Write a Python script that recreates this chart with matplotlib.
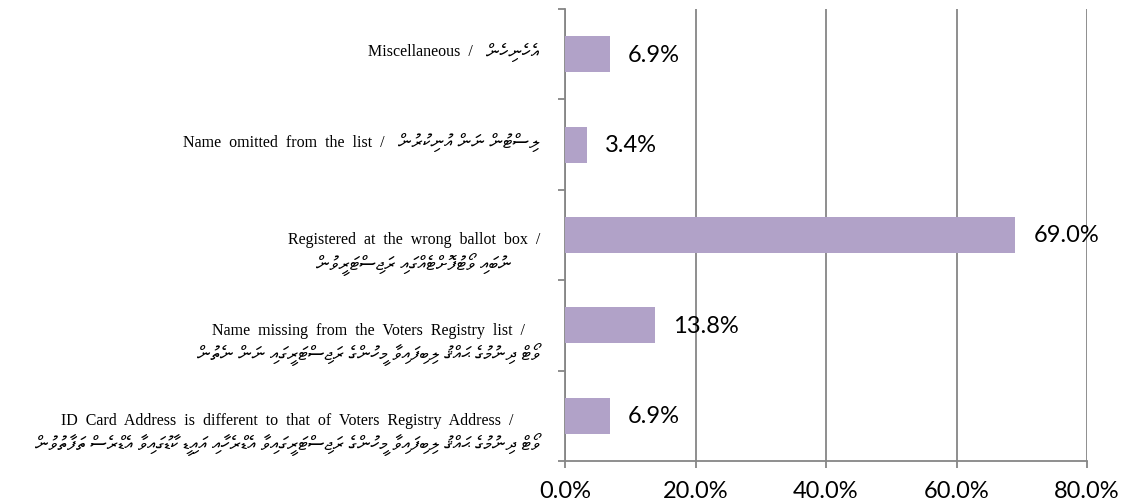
import re
import matplotlib
matplotlib.use("Agg")
import matplotlib.pyplot as plt
from matplotlib.ticker import FuncFormatter
from matplotlib.offsetbox import TextArea, VPacker, HPacker, AnnotationBbox
import matplotlib.transforms as mtransforms

# ---------------- data (bottom to top, as Excel draws them) ----------------
labels_en = [
    "ID Card Address is different to that of Voters Registry Address /",
    "Name missing from the Voters Registry  list /",
    "Registered at the wrong ballot box /",
    "Name omitted from the list /",
    "Miscellaneous /",
]
labels_dv = [
    "ވޯޓް ދިނުމުގެ ޙައްޤު ލިބިފައިވާ މީހުންގެ ރަޖިސްޓަރީގައިވާ އެޑްރެހާއި އައިޑީ ކާޑުގައިވާ އެޑްރެސް ތަފާތުވުން",
    "ވޯޓް ދިނުމުގެ ޙައްޤު ލިބިފައިވާ މީހުންގެ ރަޖިސްޓަރީގައި ނަން ނެތުން",
    "ނުބައި ވޯޓުފޮށްޓެއްގައި ރަޖިސްޓަރީވުން",
    "ލިސްޓުން ނަން އުނިކުރުން",
    "އެހެނިހެން",
]
values = [6.9, 13.8, 69.0, 3.4, 6.9]
x_ticks = [0, 20, 40, 60, 80]

# ---------------- fonts ----------------
en_family = ["Liberation Serif", "DejaVu Sans"]
dv_family = ["FreeSerif", "Noto Sans Thaana", "DejaVu Sans"]
num_family = ["Lato", "DejaVu Sans"]


def visual_order(s):
    """Thaana is written right to left; FreeSerif's vowel marks have zero
    advance and sit over the glyph that follows them, so reversing each
    Thaana run character by character gives the correct drawing order."""
    return re.sub(r"[\u0780-\u07BF][\u0780-\u07BF ]*[\u0780-\u07BF]|[\u0780-\u07BF]",
                  lambda m: m.group(0)[::-1], s)


W, H, DPI = 1126, 502, 100
fig = plt.figure(figsize=(W / DPI, H / DPI), dpi=DPI)
fig.patch.set_facecolor("white")
ax = fig.add_axes([565 / W, 1 - 462 / H, (1087 - 565) / W, (462 - 10) / H])

grid_col = "#868686"
bar_col = "#B1A2C8"

pos = list(range(len(values)))
bars = ax.barh(pos, values, height=0.4, color=bar_col, zorder=3)

ax.set_xlim(0, 80)
ax.set_ylim(-0.5, len(values) - 0.5)
ax.set_xticks(x_ticks)
ax.xaxis.set_major_formatter(FuncFormatter(lambda v, p: f"{v:.1f}%"))
for lab in ax.get_xticklabels():
    lab.set_fontfamily(num_family)
    lab.set_fontsize(17)
    lab.set_color("black")
ax.tick_params(axis="x", direction="out", length=5, width=1.3, color=grid_col, pad=9)

ax.set_yticks([p - 0.5 for p in pos] + [len(values) - 0.5])
ax.set_yticklabels([])
ax.tick_params(axis="y", direction="out", length=5, width=1.3, color=grid_col)

ax.grid(axis="x", color=grid_col, linewidth=1.3, zorder=0)
ax.set_axisbelow(True)
for side in ["top", "right"]:
    ax.spines[side].set_visible(False)
for side in ["left", "bottom"]:
    ax.spines[side].set_color(grid_col)
    ax.spines[side].set_linewidth(1.3)

# value labels
for b, v in zip(bars, values):
    ax.annotate(f"{v:.1f}%", xy=(b.get_width(), b.get_y() + b.get_height() / 2),
                xytext=(13, 0), textcoords="offset points", va="center", ha="left",
                fontsize=17, family=num_family, color="black")

# category labels (English line + Dhivehi line)
trans = mtransforms.blended_transform_factory(ax.transAxes, ax.transData)
en_props = dict(fontsize=11.5, family=en_family, color="black")
dv_props = dict(fontsize=13.5, family=dv_family, color="black")
for p, en, dv in zip(pos, labels_en, labels_dv):
    two = len(en) > 30
    en_area = TextArea("  ".join(en.split()), textprops=en_props)
    dv_area = TextArea(visual_order(dv), textprops=dv_props)
    if two:
        box = VPacker(children=[en_area, dv_area], align="center", pad=0, sep=3)
        dy = -13
    else:
        box = HPacker(children=[en_area, dv_area], align="center", pad=0, sep=10)
        dy = 2
    ab = AnnotationBbox(box, (0, p), xycoords=trans, xybox=(-18, dy),
                        boxcoords="offset points", box_alignment=(1, 0.5),
                        frameon=False, pad=0, annotation_clip=False)
    ax.add_artist(ab)

fig.savefig("out.png", dpi=DPI)
